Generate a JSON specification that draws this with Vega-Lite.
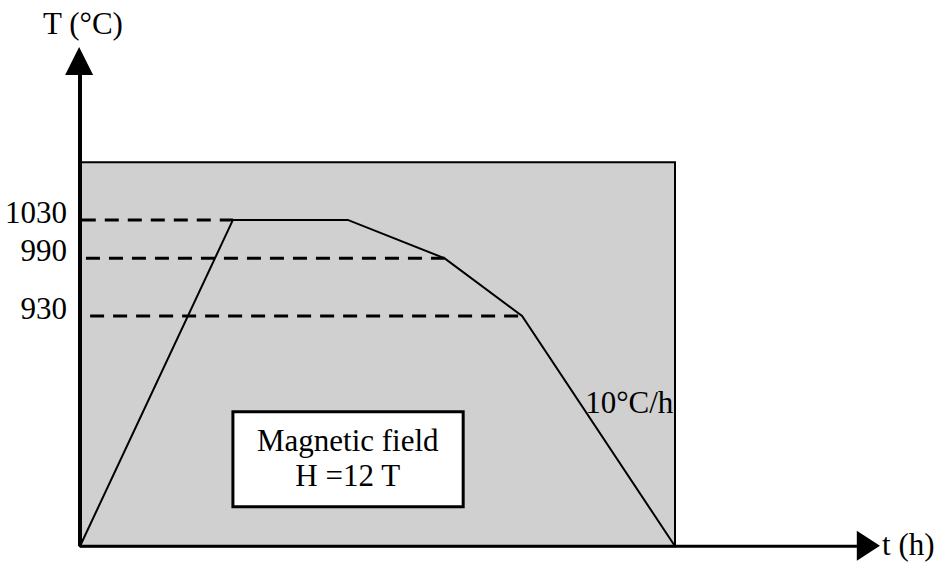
{
  "$schema": "https://vega.github.io/schema/vega-lite/v6.json",
  "width": 946,
  "height": 563,
  "autosize": {"type": "none"},
  "padding": 0,
  "background": "white",
  "config": {"view": {"stroke": null}, "text": {"font": "Liberation Serif", "fontSize": 31, "color": "black"}},
  "datasets": {
    "box": [{"t": 0, "t2": 100, "T": 690, "T2": 1090}],
    "levels": [
      {"t": 0.3, "t2": 25.7, "T": 1030, "label": "1030"},
      {"t": 1.0, "t2": 61.3, "T": 990, "label": "990"},
      {"t": 1.7, "t2": 74.3, "T": 930, "label": "930"}
    ],
    "profile": [
      {"t": 0, "T": 690, "o": 1},
      {"t": 25.7, "T": 1030, "o": 2},
      {"t": 45.0, "T": 1030, "o": 3},
      {"t": 61.3, "T": 990, "o": 4},
      {"t": 74.3, "T": 930, "o": 5},
      {"t": 100, "T": 690, "o": 6}
    ],
    "yaxis": [{"t": 0, "T": 690, "T2": 1185}],
    "xaxis": [{"t": 0, "t2": 131, "T": 690}],
    "yarrow": [{"t": -0.15, "T": 1195.6}],
    "xarrow": [{"t": 132.5, "T": 690.5}],
    "field": [{"t": 25.7, "t2": 64.4, "T": 731, "T2": 830}],
    "fieldtext": [
      {"t": 45.0, "T": 789.5, "label": "Magnetic field"},
      {"t": 45.0, "T": 752.5, "label": "H =12 T"}
    ],
    "rate": [{"t": 84.9, "T": 829, "label": "10°C/h"}],
    "tlabel": [{"t": 134.8, "T": 690, "label": "t (h)"}],
    "Tlabel": [{"t": 0.5, "T": 1224, "label": "T (°C)"}]
  },
  "encoding": {
    "x": {"field": "t", "type": "quantitative", "scale": {"domain": [-13.445, 145.546], "nice": false, "zero": false}, "axis": null},
    "y": {"field": "T", "type": "quantitative", "scale": {"domain": [672.5, 1259.2], "nice": false, "zero": false}, "axis": null}
  },
  "layer": [
    {
      "data": {"name": "box"},
      "mark": {"type": "rect", "fill": "#d0d0d0", "stroke": "black", "strokeWidth": 2},
      "encoding": {"x2": {"field": "t2"}, "y2": {"field": "T2"}}
    },
    {
      "data": {"name": "levels"},
      "mark": {"type": "rule", "stroke": "black", "strokeWidth": 3, "strokeDash": [14, 9]},
      "encoding": {"x2": {"field": "t2"}}
    },
    {
      "data": {"name": "profile"},
      "mark": {"type": "line", "stroke": "black", "strokeWidth": 2},
      "encoding": {"order": {"field": "o", "type": "quantitative"}}
    },
    {
      "data": {"name": "yaxis"},
      "mark": {"type": "rule", "stroke": "black", "strokeWidth": 4},
      "encoding": {"y2": {"field": "T2"}}
    },
    {
      "data": {"name": "xaxis"},
      "mark": {"type": "rule", "stroke": "black", "strokeWidth": 3},
      "encoding": {"x2": {"field": "t2"}}
    },
    {
      "data": {"name": "yarrow"},
      "mark": {"type": "point", "shape": "M0,-1L1,1L-1,1Z", "size": 784, "filled": true, "fill": "black", "stroke": null, "opacity": 1},
      "encoding": {}
    },
    {
      "data": {"name": "xarrow"},
      "mark": {"type": "point", "shape": "M0.77,0L-0.77,-1L-0.77,1Z", "size": 900, "filled": true, "fill": "black", "stroke": null, "opacity": 1},
      "encoding": {}
    },
    {
      "data": {"name": "field"},
      "mark": {"type": "rect", "fill": "white", "stroke": "black", "strokeWidth": 3},
      "encoding": {"x2": {"field": "t2"}, "y2": {"field": "T2"}}
    },
    {
      "data": {"name": "levels"},
      "mark": {"type": "text", "align": "right", "baseline": "alphabetic", "dx": -13, "dy": 3},
      "encoding": {"x": {"datum": 0, "type": "quantitative"}, "text": {"field": "label"}}
    },
    {
      "data": {"name": "fieldtext"},
      "mark": {"type": "text", "align": "center", "baseline": "alphabetic"},
      "encoding": {"text": {"field": "label"}}
    },
    {
      "data": {"name": "rate"},
      "mark": {"type": "text", "align": "left", "baseline": "alphabetic"},
      "encoding": {"text": {"field": "label"}}
    },
    {
      "data": {"name": "tlabel"},
      "mark": {"type": "text", "align": "left", "baseline": "middle"},
      "encoding": {"text": {"field": "label"}}
    },
    {
      "data": {"name": "Tlabel"},
      "mark": {"type": "text", "align": "center", "baseline": "alphabetic"},
      "encoding": {"text": {"field": "label"}}
    }
  ]
}
